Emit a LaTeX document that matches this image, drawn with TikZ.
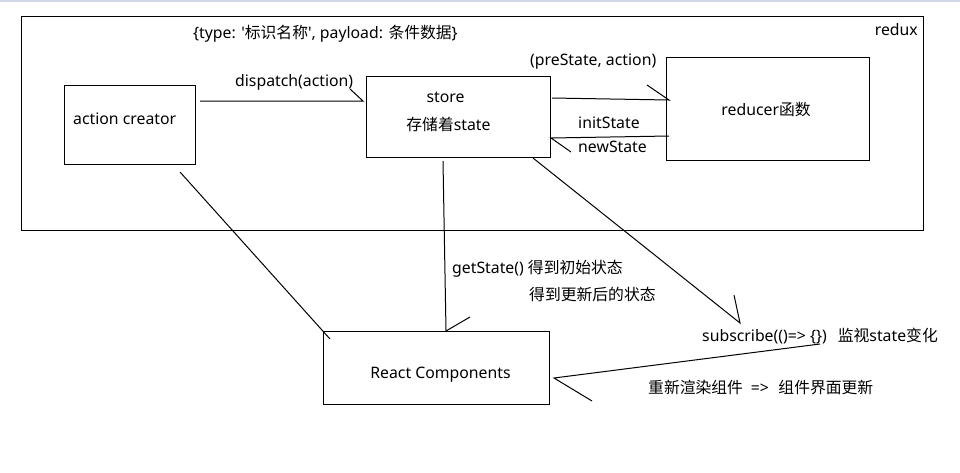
\documentclass[tikz,border=0pt]{standalone}
\usepackage{fontspec}
\setmainfont{Noto Sans}[Ligatures=TeXOff]
\newfontfamily\cjk{Noto Sans CJK SC}
\definecolor{topband}{HTML}{D0D8E8}
\begin{document}
\begin{tikzpicture}[x=1pt,y=-1pt,
  box/.style={draw,line width=1pt,inner sep=0pt,outer sep=0pt},
  conn/.style={line width=1pt},
  lbl/.style={inner sep=0pt,font=\fontsize{15.8}{18}\selectfont}]
\useasboundingbox[fill=white] (0,0) rectangle (960,472);
\fill[topband] (0,0) rectangle (960,2);

% boxes
\node[box,minimum width=902pt,minimum height=214pt] (redux) at (472,123) {};
\node[box,minimum width=131pt,minimum height=79pt] (creator) at (129.5,124.5) {};
\node[box,minimum width=184pt,minimum height=81pt] (store) at (458.5,116.5) {};
\node[box,minimum width=203pt,minimum height=103pt] (reducer) at (767.5,108.5) {};
\node[box,minimum width=226pt,minimum height=73pt] (react) at (436,367.5) {};

% texts
\node[lbl,anchor=east] (tredux) at (918,30) {redux};
\node[lbl,anchor=west] (taction) at (193,34) {\{type: '{\cjk 标识名称}', payload: {\cjk 条件数据}\}};
\node[lbl,anchor=west] (tcreator) at (73,119) {action creator};
\node[lbl,anchor=west] (tdispatch) at (235,82) {dispatch(action)};
\node[lbl] (tstore) at (445.5,97) {store};
\node[lbl] (tstore2) at (448.5,124) {{\cjk 存储着}state};
\node[lbl,anchor=west] (tpre) at (530,62) {(preState, action)};
\node[lbl] (treducer) at (766,110) {reducer{\cjk 函数}};
\node[lbl,anchor=west] (tinit) at (578,123) {initState};
\node[lbl,anchor=west] (tnew) at (578,147) {newState};
\node[lbl,anchor=west] (tget) at (452,269) {getState() {\cjk 得到初始状态}};
\node[lbl,anchor=west] (tget2) at (529,294) {{\cjk 得到更新后的状态}};
\node[lbl] (treact) at (440.5,375) {React Components};
\node[lbl,anchor=west] (tsub) at (702,336) {subscribe(()=> \{\})\hspace{0.7em}{\cjk 监视}state{\cjk 变化}};
\node[lbl,anchor=west] (trender) at (648,388) {{\cjk 重新渲染组件}\hspace{0.5em}=>\hspace{0.6em}{\cjk 组件界面更新}};

% connector end points
\coordinate (a1) at (200,101);  \coordinate (a2) at (363,101);  \coordinate (a3) at (350,89);
\coordinate (b1) at (552,98);   \coordinate (b2) at (669,100);  \coordinate (b3) at (647,85);
\coordinate (c1) at (669,136);  \coordinate (c2) at (551,138);  \coordinate (c3) at (571,152);
\coordinate (d1) at (443,161);  \coordinate (d2) at (446,331);  \coordinate (d3) at (470,317);
\coordinate (e1) at (180,172);  \coordinate (e2) at (330,339);
\coordinate (f1) at (533,158);  \coordinate (f2) at (740,323);  \coordinate (f3) at (734,295);
\coordinate (g1) at (820,344);  \coordinate (g2) at (554,378);  \coordinate (g3) at (592,401);

% connectors with hand-drawn barbs
\draw[conn] (a1) -- (a2) -- (a3);
\draw[conn] (b1) -- (b2) -- (b3);
\draw[conn] (c1) -- (c2) -- (c3);
\draw[conn] (d1) -- (d2) -- (d3);
\draw[conn] (e1) -- (e2);
\draw[conn] (f1) -- (f2) -- (f3);
\draw[conn] (g1) -- (g2) -- (g3);
\end{tikzpicture}
\end{document}
